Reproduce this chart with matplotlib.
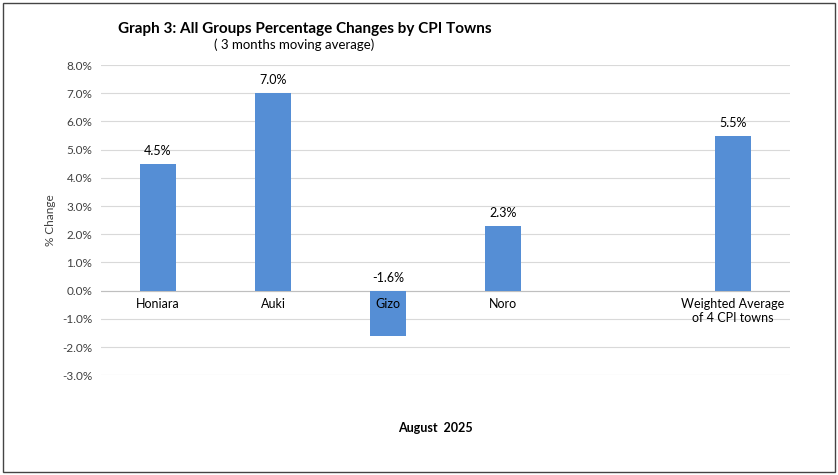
import numpy as np
import matplotlib
matplotlib.use("Agg")
import matplotlib.pyplot as plt
from matplotlib.patches import Rectangle

plt.rcParams['font.family'] = ['Lato', 'DejaVu Sans']

towns = ["Honiara", "Auki", "Gizo", "Noro", "", "Weighted Average\nof 4 CPI towns"]
changes = [4.5, 7.0, -1.6, 2.3, np.nan, 5.5]
yticks = np.arange(-3, 9, 1)

fig = plt.figure(figsize=(8.38, 4.75), dpi=100)
fig.patches.append(Rectangle((0.004, 0.006), 0.992, 0.988, transform=fig.transFigure,
                             fill=False, edgecolor="#444444", linewidth=1))
ax = fig.add_axes([0.12, 0.21, 0.823, 0.653])

x = np.arange(len(towns))
ax.bar(x, changes, width=0.31, color="#558ED5", zorder=3)
for xi, v in zip(x, changes):
    if np.isnan(v):
        continue
    ax.text(xi, max(v, 0) + 0.25, f"{v:.1f}%", ha="center", va="bottom", fontsize=9)
    ax.text(xi, -0.25, towns[xi], ha="center", va="top", fontsize=9)

ax.set_xlim(-0.5, len(towns) - 0.5)
ax.set_ylim(-3, 8)
ax.set_yticks(yticks)
ax.set_yticklabels([f"{t:.1f}%" for t in yticks], fontsize=8.5, color="#404040")
ax.set_xticks([])
ax.grid(axis="y", color="#d9d9d9", linewidth=0.8, zorder=0)
ax.axhline(0, color="#bfbfbf", linewidth=0.8, zorder=2)
for s in ax.spines.values():
    s.set_visible(False)
ax.tick_params(axis="y", length=0, pad=6)
ax.set_ylabel("% Change", fontsize=8.5, color="#404040")

fig.text(0.141, 0.94, "Graph 3: All Groups Percentage Changes by CPI Towns",
         fontsize=11, fontweight="bold", va="center")
fig.text(0.255, 0.905, "( 3 months moving average)", fontsize=9.5, va="center")
fig.text(0.52, 0.10, "August  2025", fontsize=9, fontweight="bold", ha="center", va="center")

fig.savefig("out.png", dpi=100)
